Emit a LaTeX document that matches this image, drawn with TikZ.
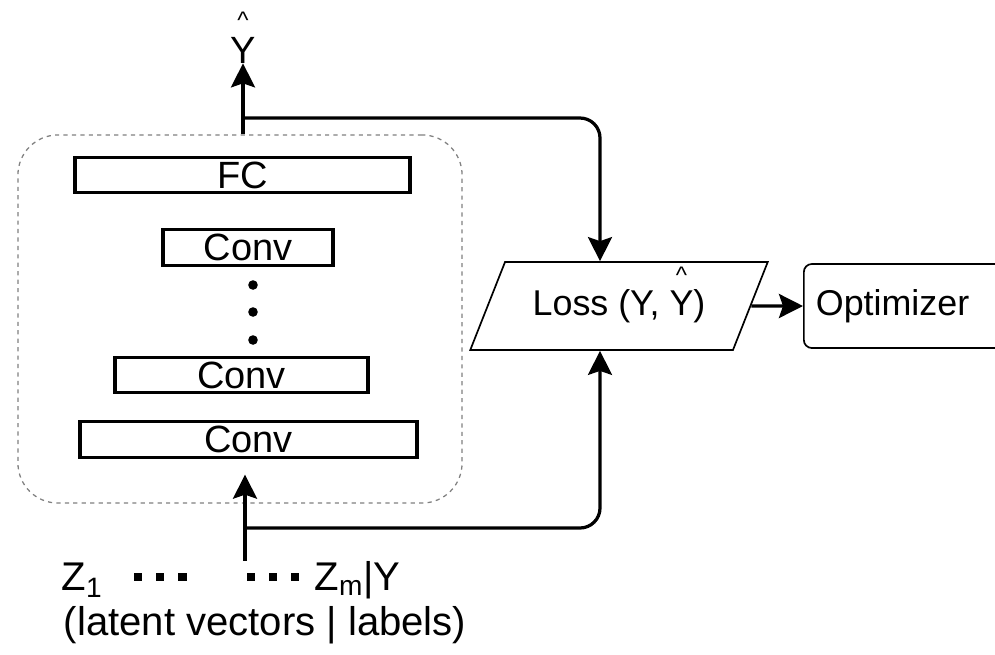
\documentclass[tikz,border=0pt]{standalone}
\usepackage{fontspec}
\setmainfont{Liberation Sans}
\usetikzlibrary{arrows.meta,shapes.geometric}

\newcommand{\hatY}{\leavevmode\makebox[0pt][l]{\makebox[0.667em]{\smash{\raisebox{0.9em}{\fontsize{17}{17}\selectfont\textasciicircum}}}}Y}
\newcommand{\sqdot}{\rule[0.22em]{0.2em}{0.2em}}
\newcommand{\sqdots}{\sqdot\hspace{0.35em}\sqdot\hspace{0.35em}\sqdot}

\tikzset{
  layer/.style={draw, rectangle, line width=2.2pt, inner sep=0pt, minimum height=0.88cm, font=\fontsize{27}{30}\selectfont},
  stackdot/.style={circle, fill, inner sep=0pt, minimum size=0.24cm},
  conn/.style={->, line width=2.3pt},
  label/.style={inner sep=0pt, font=\fontsize{28.5}{32}\selectfont}
}

\begin{document}
\begin{tikzpicture}[x=0.025cm, y=-0.025cm, >={Stealth[length=0.6cm,width=0.6cm,inset=0.1cm]}]
\useasboundingbox (0,0) rectangle (995,654);

% network
\node[draw, gray, dashed, line width=0.9pt, rounded corners=1cm, minimum width=11.1cm, minimum height=9.2cm] (net) at (240,319) {};
\node[layer, minimum width=8.375cm] (fc) at (242.5,175) {FC};
\node[layer, minimum width=4.25cm] (conv1) at (248,247.5) {Conv};
\foreach \y [count=\i] in {285,312,340}
  \node[stackdot] (dot\i) at (253,\y) {};
\node[layer, minimum width=6.325cm] (conv2) at (241.5,375) {Conv};
\node[layer, minimum width=8.425cm] (conv3) at (248.5,439.5) {Conv};

% output and input
\node[inner sep=0pt, font=\fontsize{27}{30}\selectfont] (yhat) at (243,50) {\hatY};
\node[label] (zin) at (231,580) {Z\textsubscript{1}\hspace{0.8em}\sqdots\hspace{1.5em}\sqdots\hspace{0.4em}Z\textsubscript{m}|Y};
\node[label] (desc) at (265,625) {(latent vectors | labels)};

% loss and optimizer
\node[draw, trapezium, trapezium left angle=57, trapezium right angle=123, trapezium stretches=true,
  line width=1.2pt, minimum width=7.45cm, minimum height=2.2cm, font=\fontsize{25.5}{28}\selectfont] (loss) at (619,306) {Loss (Y, \hatY)};
\node[draw, rounded corners=0.2cm, line width=1.2pt, anchor=west, minimum height=2.1cm, text width=4.5cm,
  inner xsep=0.3cm, font=\fontsize{25.5}{28}\selectfont] (opt) at (803,306) {Optimizer};

\coordinate (tsplit) at (243,118);
\coordinate (bsplit) at (245,528);
\coordinate (lx) at (600,0);

\draw[conn] (tsplit |- net.north) -- (tsplit |- yhat.south);
\draw[conn, rounded corners=0.5cm] (tsplit) -| (lx |- loss.north);
\draw[conn, shorten >=0.4cm] (bsplit |- zin.north) -- (bsplit |- conv3.south);
\draw[conn, rounded corners=0.5cm] (bsplit) -| (lx |- loss.south);
\draw[conn] (loss.east) -- (opt.west);
\end{tikzpicture}
\end{document}
